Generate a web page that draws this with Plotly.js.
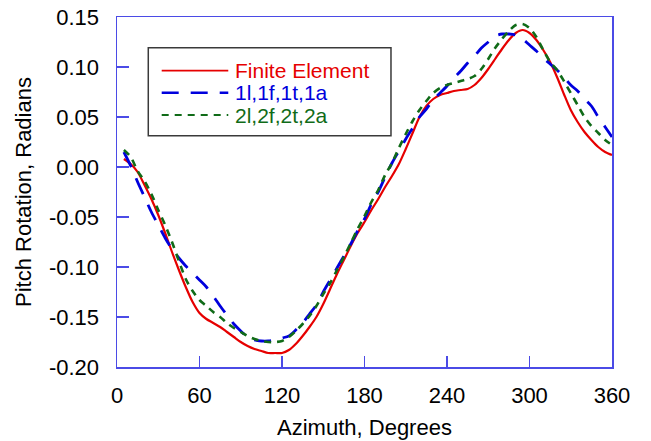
<!DOCTYPE html>
<html>
<head>
<meta charset="utf-8">
<script src="https://cdn.plot.ly/plotly-3.0.1.min.js"></script>
<style>html,body{margin:0;padding:0;background:#fff;}#chart{width:651px;height:441px;}</style>
</head>
<body>
<div id="chart"></div>
<script>
// Azimuth, degrees
const azimuth = [5,10,15,20,25,30,35,40,45,50,55,60,65,70,75,80,85,90,95,100,105,110,115,120,125,130,135,140,145,150,155,160,165,170,175,180,185,190,195,200,205,210,215,220,225,230,235,240,245,250,255,260,265,270,275,280,285,290,295,300,305,310,315,320,325,330,335,340,345,350,355,360];

// Finite Element
const finiteElement = [0.008,0.003,-0.005,-0.018,-0.032,-0.048,-0.066,-0.085,-0.103,-0.120,-0.135,-0.146,-0.152,-0.156,-0.160,-0.165,-0.170,-0.175,-0.179,-0.182,-0.184,-0.186,-0.186,-0.186,-0.183,-0.177,-0.169,-0.160,-0.150,-0.137,-0.122,-0.107,-0.093,-0.079,-0.066,-0.055,-0.043,-0.032,-0.020,-0.009,0.003,0.018,0.034,0.050,0.061,0.068,0.072,0.074,0.076,0.077,0.078,0.082,0.089,0.098,0.108,0.118,0.127,0.134,0.137,0.134,0.127,0.117,0.105,0.090,0.073,0.057,0.045,0.035,0.027,0.020,0.015,0.012];

// 1l,1f,1t,1a
const model1 = [0.015,0.001,-0.015,-0.030,-0.045,-0.058,-0.071,-0.082,-0.091,-0.099,-0.106,-0.113,-0.120,-0.129,-0.139,-0.148,-0.157,-0.164,-0.170,-0.173,-0.174,-0.174,-0.173,-0.171,-0.169,-0.163,-0.156,-0.147,-0.138,-0.125,-0.113,-0.101,-0.089,-0.077,-0.064,-0.052,-0.037,-0.025,-0.010,0.004,0.016,0.028,0.039,0.050,0.058,0.067,0.074,0.081,0.089,0.096,0.104,0.111,0.119,0.125,0.131,0.133,0.133,0.132,0.128,0.122,0.116,0.109,0.103,0.097,0.090,0.082,0.076,0.068,0.061,0.050,0.040,0.030];

// 2l,2f,2t,2a
const model2 = [0.017,0.010,-0.004,-0.014,-0.027,-0.043,-0.058,-0.075,-0.094,-0.112,-0.124,-0.133,-0.139,-0.145,-0.150,-0.156,-0.161,-0.165,-0.169,-0.172,-0.174,-0.175,-0.175,-0.174,-0.170,-0.164,-0.157,-0.149,-0.139,-0.127,-0.116,-0.103,-0.090,-0.076,-0.062,-0.049,-0.035,-0.023,-0.008,0.004,0.019,0.033,0.046,0.057,0.066,0.074,0.079,0.082,0.084,0.086,0.088,0.091,0.098,0.108,0.119,0.128,0.136,0.142,0.143,0.139,0.130,0.117,0.105,0.097,0.086,0.074,0.062,0.050,0.041,0.034,0.027,0.022];

const seriesNames = ["Finite Element", "1l,1f,1t,1a", "2l,2f,2t,2a"];
const xTickVals = [0,60,120,180,240,300,360];
const yTickVals = [-0.20,-0.15,-0.10,-0.05,0.00,0.05,0.10,0.15];
const yTickText = ["-0.20","-0.15","-0.10","-0.05","0.00","0.05","0.10","0.15"];

const colors = ["#e60000", "#0000dd", "#106b18"];
const dashes = ["solid", "17px,12px", "7px,6px"];
const widths = [2.2, 2.8, 2.6];
const seriesY = [finiteElement, model1, model2];

const FONT = "Liberation Sans, Arial, sans-serif";
const axisBlue = "#4b4be6";

const traces = seriesY.map((ys, i) => ({
  x: azimuth, y: ys, type: "scatter", mode: "lines", name: seriesNames[i],
  line: {color: colors[i], width: widths[i], dash: dashes[i], shape: "spline", smoothing: 0.8},
  showlegend: false, hoverinfo: "skip"
}));

// custom legend (box, sample lines, coloured text)
const legRowsY = [0.8466, 0.7837, 0.72];
const shapes = [{
  type: "rect", xref: "paper", yref: "paper", x0: 0.0632, x1: 0.5535, y0: 0.661, y1: 0.912,
  line: {color: "#3a3a3a", width: 1.5}, fillcolor: "rgba(255,255,255,1)", layer: "above"
}];
const annotations = [];
seriesNames.forEach((nm, i) => {
  shapes.push({type: "line", xref: "paper", yref: "paper", x0: 0.0903, x1: 0.2248, y0: legRowsY[i], y1: legRowsY[i],
    line: {color: colors[i], width: widths[i] - 0.4, dash: dashes[i]}, layer: "above"});
  annotations.push({xref: "paper", yref: "paper", x: 0.236, y: legRowsY[i], xanchor: "left", yanchor: "middle",
    text: nm, showarrow: false, borderpad: 0, font: {family: FONT, size: 21, color: colors[i]}});
});

const layout = {
  width: 651, height: 441,
  margin: {l: 117, r: 39, t: 17, b: 74, pad: 0},
  paper_bgcolor: "#fff", plot_bgcolor: "#fff",
  font: {family: FONT, size: 22, color: "#000"},
  showlegend: false,
  xaxis: {
    range: [0, 360], tickvals: xTickVals, ticks: "inside", ticklen: 11, tickwidth: 1.5, tickcolor: axisBlue,
    showline: true, linecolor: axisBlue, linewidth: 1.5, mirror: true, showgrid: false, zeroline: false,
    tickfont: {family: FONT, size: 22, color: "#000"}, ticklabelstandoff: 8,
    title: {text: "Azimuth, Degrees", font: {family: FONT, size: 22, color: "#000"}, standoff: 12}
  },
  yaxis: {
    range: [-0.2, 0.15], tickvals: yTickVals, ticktext: yTickText, ticks: "inside", ticklen: 12, tickwidth: 1.5, tickcolor: axisBlue,
    showline: true, linecolor: axisBlue, linewidth: 1.5, mirror: true, showgrid: false, zeroline: false,
    tickfont: {family: FONT, size: 22, color: "#000"}, ticklabelstandoff: 12,
    title: {text: "Pitch Rotation, Radians", font: {family: FONT, size: 22, color: "#000"}, standoff: 11}
  },
  shapes: shapes,
  annotations: annotations
};

Plotly.newPlot("chart", traces, layout, {staticPlot: true, displayModeBar: false});
</script>
</body>
</html>
